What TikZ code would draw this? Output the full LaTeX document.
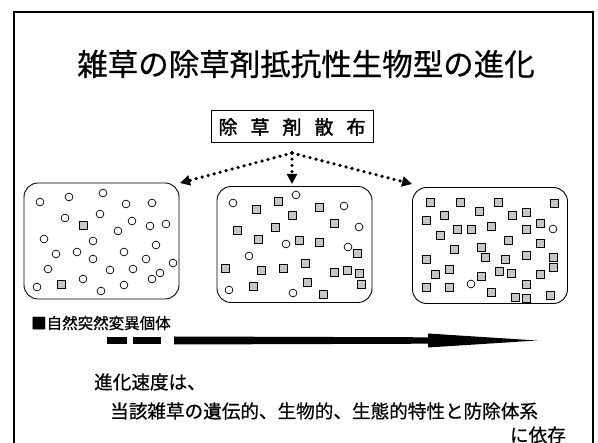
\documentclass[tikz,border=0pt]{standalone}
\usepackage{fontspec}
\setmainfont{Noto Sans CJK JP}
\newfontfamily\jp[FakeBold=0.6]{Noto Sans CJK JP}
\newfontfamily\jpb[FakeBold=1.8]{Noto Sans CJK JP}
\usetikzlibrary{arrows.meta,calc}
\tikzset{
  frame/.style={draw,line width=2pt},
  field/.style={draw,rounded corners=14pt,line width=0.9pt,minimum width=155pt,minimum height=116pt,inner sep=0pt},
  spraybox/.style={draw,line width=1pt,minimum width=162pt,minimum height=32pt,inner sep=0pt,font=\jpb\fontsize{19}{19}\selectfont},
  dotarrow/.style={line width=3.6pt,line cap=round,dash pattern=on 0pt off 6.2pt,-{Triangle[length=10pt,width=10pt]}},
  wild/.style={draw,line width=0.7pt,fill=white},
  mutant/.style={draw,line width=0.7pt,fill=gray!45},
  txt/.style={inner sep=0pt,font=\jp\fontsize{18.6}{18.6}\selectfont}
}
\newcommand{\wc}[1]{\draw[wild] (#1) circle (3.9pt);}
\newcommand{\ms}[1]{\draw[mutant] ($(#1)+(-4,-4)$) rectangle ($(#1)+(4,4)$);}
\begin{document}
\begin{tikzpicture}[x=1pt,y=-1pt]
\useasboundingbox (0,0) rectangle (598,443);
\draw[frame] (14,12) rectangle (593,470);
\node[inner sep=0pt,font=\jp\fontsize{30.5}{30.5}\selectfont] (title) at (306,64) {雑草の除草剤抵抗性生物型の進化};
\node[spraybox] (spray) at (292,127) {除\hspace{13pt}草\hspace{13pt}剤\hspace{13pt}散\hspace{13pt}布};
\node[field] (left) at (101.5,241) {};
\node[field] (mid) at (294.5,244.5) {};
\node[field] (right) at (490,245.5) {};
\coordinate (apex) at (292,153);
\coordinate (tipL) at (180,183);
\coordinate (tipM) at (292,184);
\coordinate (tipR) at (412,184);
\draw[dotarrow] (apex) -- (tipL);
\draw[dotarrow] (apex) -- (tipM);
\draw[dotarrow] (apex) -- (tipR);
% left field
\foreach \p in {{40,202},{69,197},{103,193},{126,204},{152,203},{65,218},{100,214},{132,221},{150,226},{166,224},{118,231},{44,239},{93,241},{156,245},{56,254},{77,252},{124,252},{93,259},{146,259},{173,263},{48,269},{110,270},{133,269},{160,273},{152,279},{83,279},{124,285},{37,287},{101,291}} {\expandafter\wc\expandafter{\p}}
\foreach \p in {{83,225},{61,284}} {\expandafter\ms\expandafter{\p}}
% middle field
\foreach \p in {{233,203},{296,195},{344,206},{359,227},{286,244},{249,256},{348,247},{229,290},{293,293}} {\expandafter\wc\expandafter{\p}}
\foreach \p in {{256,209},{278,201},{292,215},{319,207},{334,223},{237,230},{275,227},{258,239},{299,240},{319,242},{357,253},{225,268},{261,270},{283,268},{305,263},{334,272},{347,270},{359,273},{361,284},{253,286},{307,282},{323,294}} {\expandafter\ms\expandafter{\p}}
% right field
\foreach \p in {{553,229},{471,284}} {\expandafter\wc\expandafter{\p}}
\foreach \p in {{430,202},{460,202},{498,202},{554,203},{444,215},{479,211},{512,215},{526,212},{426,220},{440,235},{457,229},{471,229},{491,226},{526,229},{540,223},{508,240},{540,243},{454,249},{481,247},{426,259},{485,257},{505,259},{526,255},{553,257},{553,267},{449,269},{435,274},{481,276},{499,271},{511,273},{540,274},{526,284},{426,287},{449,287},{491,292},{515,297},{526,298},{550,295}} {\expandafter\ms\expandafter{\p}}
% legend
\node[inner sep=0pt,anchor=west,font=\jp\fontsize{15.5}{15.5}\selectfont] (legend) at (31,323) {■自然突然変異個体};
% time arrow
\fill (107,337) rectangle (127,344.5);
\fill (133,337) rectangle (161,344.5);
\coordinate (arrowstart) at (174,340.5);
\coordinate (arrowend) at (537,340.5);
\fill ($(arrowstart)+(0,-4)$) -- (428,-3.2+340.5) -- (428,-7+340.5) -- (arrowend) -- (428,7+340.5) -- (428,3.2+340.5) -- ($(arrowstart)+(0,4)$) -- cycle;
% text
\node[txt,anchor=west] (t1) at (94,382) {進化速度は、};
\node[txt,anchor=west] (t2) at (110,411) {当該雑草の遺伝的、生物的、生態的特性と防除体系};
\node[txt,anchor=east] (t3) at (566,435) {に依存};
\end{tikzpicture}
\end{document}
